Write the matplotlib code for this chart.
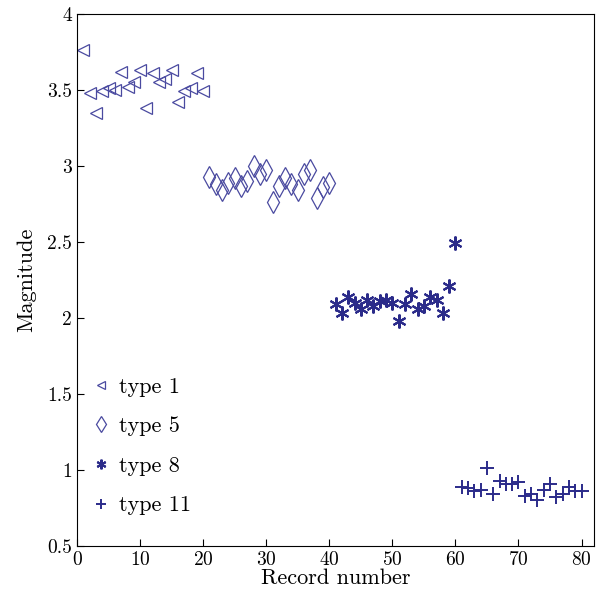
import numpy as np
import matplotlib
matplotlib.use('Agg')
import matplotlib.pyplot as plt

plt.rcParams['font.family'] = ['cmr10', 'DejaVu Serif']
plt.rcParams['axes.formatter.use_mathtext'] = True

rec1 = np.arange(1, 21)
mag1 = [3.76, 3.48, 3.35, 3.49, 3.51, 3.50, 3.62, 3.52, 3.55, 3.63,
        3.38, 3.61, 3.55, 3.57, 3.63, 3.42, 3.49, 3.51, 3.61, 3.49]
rec5 = np.arange(21, 41)
mag5 = [2.93, 2.88, 2.84, 2.89, 2.92, 2.87, 2.90, 3.00, 2.95, 2.97,
        2.76, 2.87, 2.92, 2.88, 2.84, 2.95, 2.97, 2.79, 2.86, 2.89]
rec8 = np.arange(41, 61)
mag8 = [2.09, 2.03, 2.14, 2.10, 2.06, 2.12, 2.08, 2.11, 2.12, 2.10,
        1.98, 2.09, 2.16, 2.06, 2.08, 2.14, 2.12, 2.03, 2.21, 2.49]
rec11 = np.arange(61, 81)
mag11 = [0.89, 0.88, 0.86, 0.87, 1.01, 0.84, 0.93, 0.91, 0.91, 0.92,
         0.83, 0.84, 0.80, 0.87, 0.91, 0.82, 0.84, 0.89, 0.86, 0.86]

col_light = '#4a4aa0'
col_dark = '#2b2b8a'

fig = plt.figure(figsize=(6.02, 6.04), dpi=100)
ax = fig.add_axes([0.128, 0.096, 0.859, 0.881])
ax.plot(rec1, mag1, ls='none', marker='<', ms=9, mfc='none', mec=col_light, mew=0.9, label='type 1')
ax.plot(rec5, mag5, ls='none', marker='d', ms=11, mfc='none', mec=col_light, mew=0.9, label='type 5')
ax.plot(rec8, mag8, ls='none', marker=(6, 2, 0), ms=10, mec=col_dark, mew=1.5, label='type 8')
ax.plot(rec11, mag11, ls='none', marker='+', ms=10, mec=col_dark, mew=1.4, label='type 11')

ax.set_xlim(0, 82)
ax.set_ylim(0.5, 4)
ax.set_xticks(np.arange(0, 81, 10))
ax.set_yticks([0.5, 1, 1.5, 2, 2.5, 3, 3.5, 4])
ax.set_yticklabels(['0.5', '1', '1.5', '2', '2.5', '3', '3.5', '4'])
ax.tick_params(direction='in', labelsize=14, length=5)
ax.set_xlabel('Record number', fontsize=16, labelpad=0)
ax.set_ylabel('Magnitude', fontsize=16, labelpad=8)
ax.legend(loc='lower left', bbox_to_anchor=(-0.01, 0.02), frameon=False, fontsize=16,
          labelspacing=0.9, handlelength=0.8, handletextpad=0.4, markerscale=0.7)

fig.savefig('out.png', dpi=100)
